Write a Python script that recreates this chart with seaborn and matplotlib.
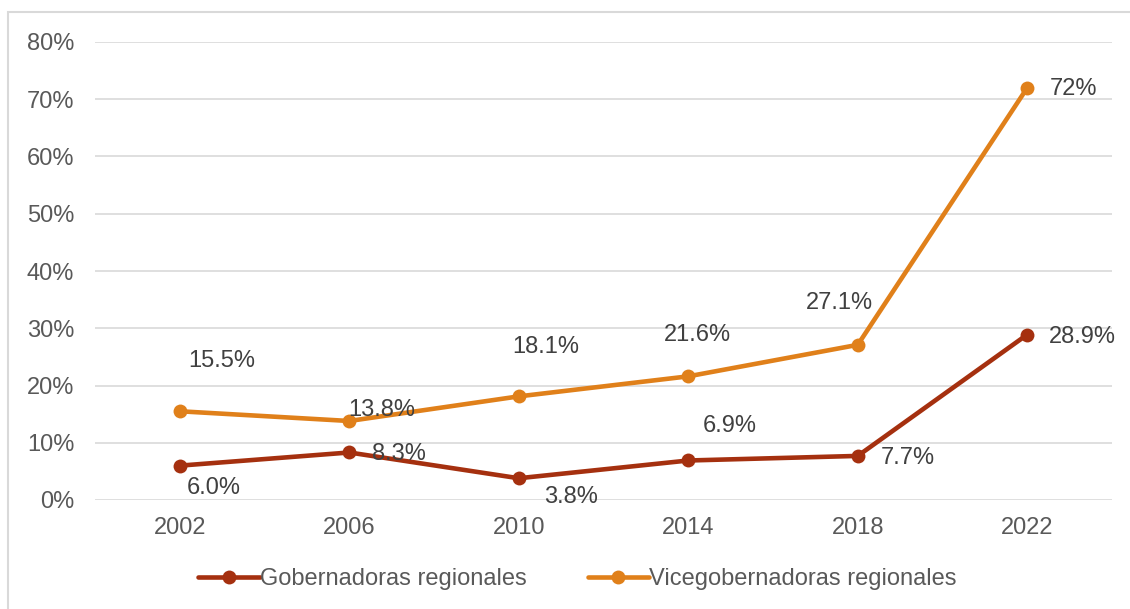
import numpy as np
import pandas as pd
import matplotlib
matplotlib.use("Agg")
import matplotlib.pyplot as plt
import seaborn as sns
from matplotlib.patches import Rectangle

# =================== Datos ===================
anios = [2002, 2006, 2010, 2014, 2018, 2022]
gobernadoras = [6.0, 8.3, 3.8, 6.9, 7.7, 28.9]
vicegobernadoras = [15.5, 13.8, 18.1, 21.6, 27.1, 72.0]
etiquetas_gob = ["6.0%", "8.3%", "3.8%", "6.9%", "7.7%", "28.9%"]
etiquetas_vice = ["15.5%", "13.8%", "18.1%", "21.6%", "27.1%", "72%"]
series = ["Gobernadoras regionales", "Vicegobernadoras regionales"]

# desplazamientos de las etiquetas (pixeles)
off_gob = [(34, -22), (50, -2), (52, -19), (41, 34), (50, -2), (55, -2)]
off_vice = [(42, 50), (32, 11), (27, 49), (9, 41), (-18, 42), (46, -1)]

GRIS = "#595959"
colores = {series[0]: "#A5300F", series[1]: "#E0801A"}

df = pd.DataFrame({
    "anio": anios * 2,
    "valor": gobernadoras + vicegobernadoras,
    "serie": [series[0]] * len(anios) + [series[1]] * len(anios),
})

sns.set_theme(style="white")
plt.rcParams["font.family"] = ["Liberation Sans", "DejaVu Sans"]

FS = 17

fig = plt.figure(figsize=(11.3, 6.09), dpi=100)
ax = fig.add_axes([95 / 1130, 1 - 500 / 609, 1017 / 1130, 458 / 609])

sns.lineplot(data=df, x="anio", y="valor", hue="serie", palette=colores,
             marker="o", markersize=10, markeredgewidth=0, linewidth=3.3,
             ax=ax, legend=False)

ax.set_xlim(2000, 2024)
ax.set_ylim(0, 80)
ax.set_xticks(anios)
ax.set_xticklabels([str(a) for a in anios])
ax.set_yticks(np.arange(0, 81, 10))
ax.set_yticklabels([f"{v}%" for v in range(0, 81, 10)])
ax.tick_params(axis="both", labelsize=FS, labelcolor=GRIS, length=0)
ax.tick_params(axis="x", pad=12)
ax.tick_params(axis="y", pad=15)
ax.grid(axis="y", color="#D9D9D9", linewidth=1.2)
ax.set_axisbelow(True)
for s in ax.spines.values():
    s.set_visible(False)
ax.set_xlabel("")
ax.set_ylabel("")

for vals, labs, offs in [(gobernadoras, etiquetas_gob, off_gob),
                         (vicegobernadoras, etiquetas_vice, off_vice)]:
    for x, y, t, (dx, dy) in zip(anios, vals, labs, offs):
        ax.annotate(t, (x, y), xytext=(dx, dy), textcoords="offset pixels",
                    ha="center", va="center", fontsize=FS, color="#404040")

handles = [plt.Line2D([], [], color=colores[s], marker="o", markersize=10,
                      linewidth=3.3, markeredgewidth=0) for s in series]
fig.legend(handles, series, loc="center", bbox_to_anchor=(0.511, 1 - 579 / 609),
           ncol=2, frameon=False, fontsize=FS, labelcolor=GRIS,
           handlelength=2.6, handletextpad=0.0, columnspacing=2.6)

fig.patches.append(Rectangle((8 / 1130, -0.01), 1.0, 1 - 12 / 609 + 0.01,
                             transform=fig.transFigure, fill=False,
                             edgecolor="#D9D9D9", linewidth=1.5))

fig.savefig("out.png", dpi=100)
